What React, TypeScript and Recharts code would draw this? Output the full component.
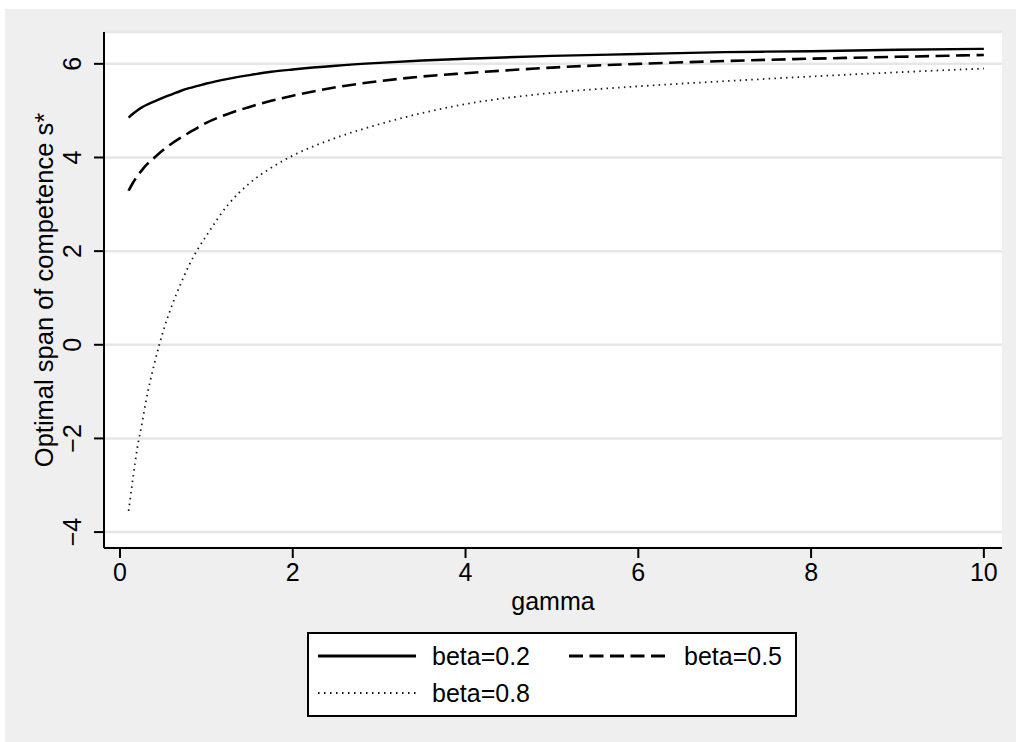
import React from "react";
import { LineChart, Line, XAxis, YAxis, CartesianGrid, Label } from "recharts";

const gammaValues = [0.1, 0.15, 0.2, 0.25, 0.3, 0.4, 0.5, 0.6, 0.7, 0.8, 0.9, 1, 1.25, 1.5, 1.75, 2, 2.5, 3, 3.5, 4, 5, 6, 7, 8, 9, 10];
const beta02 = [4.85, 4.935, 5.005, 5.065, 5.115, 5.2, 5.28, 5.35, 5.42, 5.48, 5.53, 5.58, 5.68, 5.76, 5.83, 5.88, 5.96, 6.02, 6.07, 6.11, 6.17, 6.21, 6.25, 6.27, 6.3, 6.32];
const beta05 = [3.29, 3.46, 3.6, 3.72, 3.83, 4.0, 4.16, 4.3, 4.42, 4.53, 4.64, 4.74, 4.93, 5.08, 5.21, 5.32, 5.5, 5.63, 5.73, 5.8, 5.92, 6.0, 6.06, 6.11, 6.15, 6.19];
const beta08 = [-3.55, -2.85, -2.21, -1.73, -1.21, -0.39, 0.29, 0.83, 1.29, 1.7, 2.04, 2.33, 2.99, 3.45, 3.78, 4.04, 4.42, 4.71, 4.95, 5.14, 5.38, 5.52, 5.63, 5.73, 5.82, 5.9];

const xTicks = [0, 2, 4, 6, 8, 10];
const yTicks = [-4, -2, 0, 2, 4, 6];
const xLabel = "gamma";
const yLabel = "Optimal span of competence s*";

const seriesNames = ["beta=0.2", "beta=0.5", "beta=0.8"];

const data = gammaValues.map((g, i) => ({
  gamma: g,
  b02: beta02[i],
  b05: beta05[i],
  b08: beta08[i],
}));

const FONT = "'Liberation Sans', Arial, sans-serif";
const FS = 25;

const XTick = (props: any) => {
  const { x, y, payload } = props;
  return (
    <text x={x} y={y + 23} textAnchor="middle" fontFamily={FONT} fontSize={FS} fill="#000">
      {payload.value}
    </text>
  );
};

const YTick = (props: any) => {
  const { x, y, payload } = props;
  const tx = x - 13;
  const v = payload.value < 0 ? "\u2212" + Math.abs(payload.value) : String(payload.value);
  return (
    <text x={tx} y={y} textAnchor="middle" fontFamily={FONT} fontSize={FS} fill="#000" transform={`rotate(-90, ${tx}, ${y})`}>
      {v}
    </text>
  );
};

const legendItems = [
  { name: seriesNames[0], dash: undefined as string | undefined, width: 3, color: "#000", col: 0, row: 0 },
  { name: seriesNames[1], dash: "14 6.5", width: 3, color: "#000", col: 1, row: 0 },
  { name: seriesNames[2], dash: "1.5 4.5", width: 2, color: "#111", col: 0, row: 1 },
];

const LegendBox = () => {
  const colX = [11, 262];
  const textX = [125, 377];
  const rowY = [24, 61];
  return (
    <svg width={490} height={85} style={{ position: "absolute", left: 307, top: 632 }}>
      <rect x={1} y={1} width={488} height={83} fill="#fff" stroke="#000" strokeWidth={2} />
      {legendItems.map((it) => (
        <g key={it.name}>
          <line
            x1={colX[it.col]}
            x2={colX[it.col] + 98}
            y1={rowY[it.row]}
            y2={rowY[it.row]}
            stroke={it.color}
            strokeWidth={it.width}
            strokeDasharray={it.dash}
          />
          <text x={textX[it.col]} y={rowY[it.row] + 9} fontFamily={FONT} fontSize={FS} fill="#000">
            {it.name}
          </text>
        </g>
      ))}
    </svg>
  );
};

export default function App() {
  return (
    <div style={{ position: "absolute", left: 0, top: 0, width: 1016, height: 742, background: "#fff", overflow: "hidden" }}>
      <div style={{ position: "absolute", left: 5, top: 9, width: 1011, height: 733, background: "#efefef" }} />
      <div style={{ position: "absolute", left: 0, top: 0 }}>
        <LineChart width={1016} height={742} data={data} margin={{ top: 32, right: 14, bottom: 134, left: 0 }}>
          <CartesianGrid vertical={false} stroke="#e6e6e6" strokeWidth={2.5} fill="#fff" />
          <XAxis
            dataKey="gamma"
            type="number"
            domain={[-0.185, 10.21]}
            ticks={xTicks}
            allowDataOverflow
            height={60}
            tickSize={10}
            tickMargin={0}
            tick={<XTick />}
            axisLine={{ stroke: "#000", strokeWidth: 2 }}
            tickLine={{ stroke: "#000", strokeWidth: 2 }}
          >
            <Label
              content={() => (
                <text x={553} y={610} textAnchor="middle" fontFamily={FONT} fontSize={FS} fill="#000">
                  {xLabel}
                </text>
              )}
            />
          </XAxis>
          <YAxis
            type="number"
            domain={[-4.34, 6.68]}
            ticks={yTicks}
            allowDataOverflow
            width={104}
            tickSize={10}
            tickMargin={0}
            tick={<YTick />}
            axisLine={{ stroke: "#000", strokeWidth: 2 }}
            tickLine={{ stroke: "#000", strokeWidth: 2 }}
          >
            <Label
              content={() => (
                <text x={53} y={290} textAnchor="middle" fontFamily={FONT} fontSize={FS + 0.5} fill="#000" transform="rotate(-90, 53, 290)">
                  {yLabel}
                </text>
              )}
            />
          </YAxis>
          <Line type="monotone" dataKey="b02" name={seriesNames[0]} stroke="#000" strokeWidth={2.4} dot={false} activeDot={false} isAnimationActive={false} />
          <Line type="monotone" dataKey="b05" name={seriesNames[1]} stroke="#000" strokeWidth={2.6} strokeDasharray="14 6.5" dot={false} activeDot={false} isAnimationActive={false} />
          <Line type="monotone" dataKey="b08" name={seriesNames[2]} stroke="#1a1a1a" strokeWidth={1.8} strokeDasharray="1.5 4.3" dot={false} activeDot={false} isAnimationActive={false} />
        </LineChart>
      </div>
      <LegendBox />
    </div>
  );
}
